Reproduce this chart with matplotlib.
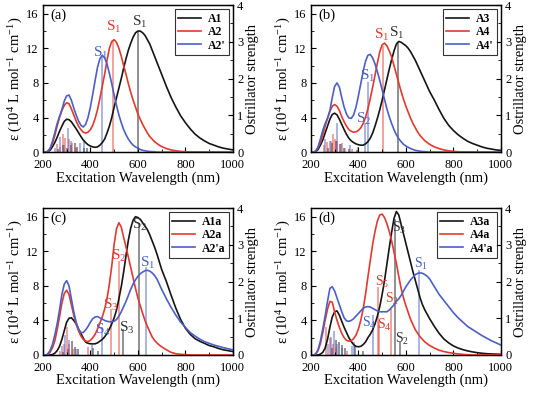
import numpy as np
import matplotlib.pyplot as plt
from matplotlib.ticker import MultipleLocator

plt.rcParams['font.family'] = ['Liberation Serif', 'DejaVu Serif']
plt.rcParams['mathtext.fontset'] = 'custom'
plt.rcParams['mathtext.rm'] = 'Liberation Serif'
plt.rcParams['mathtext.it'] = 'Liberation Serif:italic'
plt.rcParams['axes.linewidth'] = 0.9

BLACK = '#151515'
RED = '#e4392d'
BLUE = '#4a60c6'

# sampling wavelengths of the simulated spectra (nm): 10 nm up to 700, 20 nm beyond
wavelength = np.concatenate([np.arange(200, 701, 10), np.arange(720, 1001, 20)])

# (a) molar absorptivity, 10^4 L mol-1 cm-1
A1 = [0, 0, 0.05, 0.2, 0.6, 1.1, 1.7, 2.4, 3.0, 3.55,
      3.8, 3.75, 3.5, 3.1, 2.7, 2.25, 1.8, 1.4, 1.1, 0.85,
      0.7, 0.6, 0.55, 0.6, 0.8, 1.1, 1.5, 2.2, 3.0, 4.0,
      5.2, 6.3, 7.4, 8.5, 9.7, 10.8, 11.8, 12.6, 13.3, 13.8,
      14.0, 14.0, 13.8, 13.5, 13.0, 12.5, 11.8, 11.1, 10.4, 9.7,
      9.0, 7.6, 6.3, 5.2, 4.2, 3.4, 2.7, 2.1, 1.65, 1.3, 1.0, 0.8, 0.6, 0.45, 0.35, 0.25]
A2 = [0, 0, 0.1, 0.4, 1.0, 1.9, 3.0, 4.0, 4.8, 5.4,
      5.7, 5.6, 5.0, 4.3, 3.6, 3.0, 2.6, 2.3, 2.2, 2.3,
      2.6, 3.1, 3.9, 4.9, 6.2, 7.6, 9.0, 10.6, 12.0, 12.8,
      13.0, 12.7, 12.0, 11.1, 10.0, 9.0, 7.9, 6.9, 6.0, 5.2,
      4.4, 3.8, 3.2, 2.7, 2.2, 1.8, 1.5, 1.2, 1.0, 0.8,
      0.65, 0.4, 0.25, 0.15, 0.08, 0.04, 0, 0, 0, 0, 0, 0, 0, 0, 0, 0]
A2p = [0, 0, 0.05, 0.4, 1.2, 2.2, 3.3, 4.1, 4.9, 5.9,
       6.5, 6.6, 6.0, 5.1, 4.3, 3.6, 3.1, 2.9, 3.2, 4.0,
       5.2, 6.7, 8.3, 9.8, 10.8, 11.2, 10.9, 10.2, 9.1, 7.9,
       6.6, 5.4, 4.3, 3.4, 2.6, 2.0, 1.5, 1.1, 0.8, 0.6,
       0.45, 0.3, 0.2, 0.15, 0.1, 0.07, 0.05, 0.03, 0, 0,
       0, 0, 0, 0, 0, 0, 0, 0, 0, 0, 0, 0, 0, 0, 0, 0]

# (b)
A3 = [0, 0, 0.05, 0.3, 0.8, 1.4, 2.2, 3.0, 3.8, 4.35,
      4.5, 4.3, 3.8, 3.2, 2.6, 2.05, 1.6, 1.3, 1.1, 0.95,
      0.85, 0.8, 0.8, 0.95, 1.2, 1.6, 2.2, 3.0, 3.9, 4.9,
      6.0, 7.2, 8.4, 9.6, 10.7, 11.7, 12.5, 12.8, 12.7, 12.5,
      12.3, 12.0, 11.6, 11.1, 10.6, 10.0, 9.4, 8.8, 8.2, 7.6,
      7.0, 6.0, 4.9, 3.9, 3.1, 2.5, 2.0, 1.6, 1.25, 1.0, 0.8, 0.6, 0.45, 0.35, 0.25, 0.2]
A4 = [0, 0, 0.1, 0.5, 1.1, 2.0, 3.0, 3.9, 4.7, 5.3,
      5.5, 5.3, 4.8, 4.1, 3.5, 3.0, 2.6, 2.4, 2.3, 2.35,
      2.5, 2.8, 3.3, 4.0, 5.0, 6.2, 7.5, 8.9, 10.3, 11.6,
      12.4, 12.6, 12.3, 11.7, 11.0, 10.0, 9.0, 8.0, 7.0, 6.1,
      5.3, 4.6, 3.9, 3.3, 2.8, 2.3, 1.9, 1.6, 1.3, 1.1,
      0.9, 0.6, 0.4, 0.25, 0.15, 0.08, 0.04, 0, 0, 0, 0, 0, 0, 0, 0, 0]
A4p = [0, 0, 0.1, 0.6, 1.5, 2.5, 3.3, 3.9, 4.8, 6.3,
       7.6, 8.0, 7.5, 6.3, 5.2, 4.4, 3.95, 3.9, 4.3, 5.2,
       6.5, 7.9, 9.3, 10.5, 11.2, 11.3, 10.9, 10.2, 9.3, 8.3,
       7.2, 6.1, 5.0, 4.1, 3.3, 2.6, 2.0, 1.55, 1.2, 0.9,
       0.7, 0.55, 0.4, 0.3, 0.2, 0.15, 0.1, 0.07, 0.05, 0.03,
       0, 0, 0, 0, 0, 0, 0, 0, 0, 0, 0, 0, 0, 0, 0, 0]

# (c)
A1a = [0, 0, 0, 0, 0.05, 0.2, 0.5, 1.0, 1.8, 2.8,
       3.8, 4.25, 4.3, 4.0, 3.6, 3.0, 2.5, 1.95, 1.5, 1.35,
       1.3, 1.28, 1.3, 1.4, 1.6, 1.8, 2.1, 2.5, 3.0, 3.6,
       4.3, 5.2, 6.5, 7.9, 9.6, 11.5, 13.3, 14.7, 15.6, 16.0,
       15.9, 15.7, 15.3, 14.9, 14.5, 13.9, 13.2, 12.5, 11.7, 10.8,
       9.9, 8.5, 6.9, 5.4, 4.1, 3.1, 2.4, 1.9, 1.6, 1.35, 1.1, 0.95, 0.75, 0.6, 0.5, 0.4]
A2a = [0, 0, 0.05, 0.3, 0.8, 1.6, 2.9, 4.4, 6.0, 7.1,
       7.5, 7.0, 5.8, 4.6, 3.6, 2.8, 2.2, 1.8, 1.6, 1.55,
       1.7, 2.0, 2.4, 3.0, 3.7, 4.4, 5.3, 6.5, 8.2, 10.3,
       12.8, 14.6, 15.3, 14.8, 13.6, 12.5, 11.3, 10.1, 8.9, 7.7,
       6.6, 5.7, 4.8, 4.0, 3.3, 2.7, 2.1, 1.7, 1.4, 1.15,
       0.95, 0.6, 0.3, 0.15, 0.08, 0.04, 0, 0, 0, 0, 0, 0, 0, 0, 0, 0]
A2pa = [0, 0, 0.1, 0.5, 1.2, 2.3, 3.6, 5.2, 7.0, 8.2,
        8.6, 8.0, 6.5, 5.0, 3.8, 3.0, 2.6, 2.6, 2.9, 3.3,
        3.8, 4.2, 4.4, 4.45, 4.3, 4.15, 4.0, 3.9, 3.85, 3.85,
        3.9, 4.1, 4.5, 5.0, 5.6, 6.2, 6.9, 7.6, 8.2, 8.7,
        9.1, 9.4, 9.6, 9.75, 9.8, 9.7, 9.5, 9.2, 8.8, 8.2,
        7.6, 6.5, 5.5, 4.6, 3.8, 3.2, 2.6, 2.2, 1.85, 1.55, 1.35, 1.15, 1.0, 0.85, 0.72, 0.6]

# (d)
A3a = [0, 0, 0, 0, 0.1, 0.3, 0.8, 1.8, 3.2, 4.4,
       5.0, 5.1, 4.6, 3.9, 3.2, 2.6, 2.0, 1.55, 1.2, 1.0,
       0.95, 1.0, 1.2, 1.5, 2.0, 2.4, 2.9, 3.6, 4.5, 5.6,
       7.0, 8.6, 10.5, 12.4, 14.2, 15.8, 16.6, 16.2, 15.1, 14.0,
       12.9, 11.8, 10.7, 9.6, 8.6, 7.6, 6.6, 5.8, 5.2, 4.7,
       4.2, 3.3, 2.5, 1.85, 1.4, 1.05, 0.8, 0.62, 0.47, 0.36, 0.27, 0.2, 0.15, 0.12, 0.1, 0.08]
A4a = [0, 0, 0.1, 0.5, 1.3, 2.6, 4.0, 5.3, 6.2, 6.1,
       5.0, 4.0, 3.2, 2.5, 2.0, 1.7, 1.6, 1.65, 1.9, 2.3,
       3.0, 4.0, 5.3, 7.0, 9.0, 10.9, 12.8, 14.3, 15.5, 16.2,
       16.3, 15.9, 15.2, 14.3, 13.2, 11.9, 10.6, 9.1, 7.7, 6.6,
       5.7, 4.9, 4.1, 3.5, 2.9, 2.5, 2.1, 1.8, 1.5, 1.3,
       1.1, 0.8, 0.55, 0.4, 0.28, 0.2, 0.12, 0.07, 0.03, 0, 0, 0, 0, 0, 0, 0]
A4pa = [0, 0, 0.1, 0.6, 1.6, 3.0, 4.5, 6.2, 7.7, 7.9,
        7.4, 6.6, 5.8, 5.0, 4.3, 3.95, 3.9, 4.0, 4.2, 4.5,
        4.8, 5.1, 5.4, 5.55, 5.6, 5.55, 5.4, 5.25, 5.1, 5.0,
        5.0, 5.0, 5.0, 5.2, 5.5, 5.8, 6.2, 6.5, 6.9, 7.4,
        7.9, 8.3, 8.7, 9.0, 9.3, 9.45, 9.5, 9.45, 9.3, 9.1,
        8.8, 7.9, 7.0, 6.3, 5.6, 4.9, 4.3, 3.8, 3.3, 2.95, 2.6, 2.25, 1.95, 1.65, 1.4, 1.15]

# oscillator strengths (stick spectra): wavelengths (nm) and strengths
A1_wl = [262, 285, 300, 318, 336, 345, 372, 385, 600]
A1_f = [0.08, 0.18, 0.12, 0.2, 0.25, 0.15, 0.12, 0.1, 3.3]
A2_wl = [258, 272, 284, 294, 310, 322, 340, 495]
A2_f = [0.22, 0.15, 0.48, 0.38, 0.36, 0.25, 0.1, 3.05]
A2p_wl = [250, 274, 290, 306, 318, 356, 373, 450]
A2p_f = [0.1, 0.4, 0.2, 0.65, 0.3, 0.24, 0.34, 2.6]

A3_wl = [270, 290, 305, 322, 340, 360, 395, 568]
A3_f = [0.12, 0.25, 0.3, 0.22, 0.12, 0.08, 0.06, 2.98]
A4_wl = [255, 268, 280, 292, 300, 312, 325, 345, 375, 505]
A4_f = [0.2, 0.28, 0.3, 0.48, 0.35, 0.3, 0.22, 0.12, 0.08, 2.9]
A4p_wl = [258, 285, 308, 330, 365, 398, 428, 442]
A4p_f = [0.35, 0.3, 0.8, 0.25, 0.2, 0.15, 0.8, 1.9]

A1a_wl = [285, 305, 322, 335, 348, 412, 430, 538, 604]
A1a_f = [0.08, 0.15, 0.38, 0.22, 0.15, 0.18, 0.1, 0.7, 3.6]
A2a_wl = [272, 288, 300, 312, 328, 391, 488, 519]
A2a_f = [0.1, 0.3, 0.75, 0.3, 0.15, 0.22, 1.25, 2.55]
A2pa_wl = [280, 295, 310, 340, 405, 450, 634]
A2pa_f = [0.25, 0.55, 0.4, 0.15, 0.27, 0.77, 2.4]

A3a_wl = [290, 305, 318, 330, 345, 385, 420, 555, 576]
A3a_f = [0.2, 0.4, 0.35, 0.28, 0.2, 0.25, 0.1, 3.7, 0.35]
A4a_wl = [262, 280, 292, 305, 350, 481, 487, 537]
A4a_f = [0.75, 0.45, 0.3, 0.2, 0.1, 1.85, 0.9, 1.25]
A4pa_wl = [272, 285, 298, 312, 330, 375, 383, 460, 655]
A4pa_f = [0.3, 0.5, 0.65, 0.3, 0.2, 0.25, 0.35, 1.1, 2.3]


def draw_panel(rect, tag, names, curves, sticks, labels, label_size=11):
    ax = fig.add_axes(rect)
    ax2 = ax.twinx()
    colors = [BLACK, RED, BLUE]
    for (wl, f), c in zip(sticks, colors):
        ax2.vlines(wl, 0, f, color=c, lw=1.2, alpha=0.55)
    for y, name, c in zip(curves, names, colors):
        ax.plot(wavelength, y, color=c, lw=1.2, label=name)
    for text, x, y, c in labels:
        ax.text(x, y, text, color=c, fontsize=label_size, ha='center', va='center')

    ax.set_xlim(200, 1000)
    ax.set_ylim(0, 17)
    ax2.set_ylim(0, 4)
    ax.xaxis.set_major_locator(MultipleLocator(200))
    ax.xaxis.set_minor_locator(MultipleLocator(100))
    ax.yaxis.set_major_locator(MultipleLocator(4))
    ax.yaxis.set_minor_locator(MultipleLocator(2))
    ax2.yaxis.set_major_locator(MultipleLocator(1))
    ax2.yaxis.set_minor_locator(MultipleLocator(0.5))
    for a in (ax, ax2):
        a.tick_params(which='both', direction='in', labelsize=9, pad=3)
        a.tick_params(which='major', length=3.5)
        a.tick_params(which='minor', length=2)
    ax.tick_params(axis='x', which='both', pad=5)

    ax.set_xlabel('Excitation Wavelength (nm)', fontsize=10.5, labelpad=0)
    ax.set_ylabel('ε (10$^4$ L mol$^{-1}$ cm$^{-1}$)', fontsize=10.5, labelpad=1)
    ax2.set_ylabel('Ostrillator strength', fontsize=10.5, labelpad=2)
    ax.text(0.04, 0.93, tag, transform=ax.transAxes, fontsize=10.5,
            ha='left', va='center')
    leg = ax.legend(loc='upper right', fancybox=False, edgecolor='black',
                    prop={'weight': 'bold', 'size': 8.5}, handlelength=1.9,
                    labelspacing=0.12, borderaxespad=0.35, borderpad=0.3,
                    handletextpad=0.6)
    leg.get_frame().set_linewidth(0.8)
    leg.set_zorder(20)
    ax.set_zorder(ax2.get_zorder() + 1)
    ax.patch.set_visible(False)
    return ax


fig = plt.figure(figsize=(5.36, 3.94), dpi=100)

w, h = 0.3545, 0.373
draw_panel([0.080, 0.614, w, h], '(a)', ['A1', 'A2', "A2'"], [A1, A2, A2p],
           [(A1_wl, A1_f), (A2_wl, A2_f), (A2p_wl, A2p_f)],
           [('S$_1$', 608, 15.1, '#333333'), ('S$_1$', 500, 14.5, RED),
            ('S$_1$', 444, 11.5, BLUE)])
draw_panel([0.580, 0.614, w, h], '(b)', ['A3', 'A4', "A4'"], [A3, A4, A4p],
           [(A3_wl, A3_f), (A4_wl, A4_f), (A4p_wl, A4p_f)],
           [('S$_1$', 560, 13.8, '#333333'), ('S$_1$', 499, 13.6, RED),
            ('S$_1$', 440, 8.8, BLUE), ('S$_2$', 422, 3.8, BLUE)])
draw_panel([0.080, 0.099, w, h], '(c)', ['A1a', 'A2a', "A2'a"], [A1a, A2a, A2pa],
           [(A1a_wl, A1a_f), (A2a_wl, A2a_f), (A2pa_wl, A2pa_f)],
           [('S$_2$', 606, 15.0, '#333333'), ('S$_3$', 552, 3.1, '#333333'),
            ('S$_2$', 520, 11.4, RED), ('S$_3$', 486, 5.8, RED),
            ('S$_1$', 643, 10.6, BLUE), ('S$_4$', 451, 2.9, BLUE)])
draw_panel([0.580, 0.099, w, h], '(d)', ['A3a', 'A4a', "A4'a"], [A3a, A4a, A4pa],
           [(A3a_wl, A3a_f), (A4a_wl, A4a_f), (A4pa_wl, A4pa_f)],
           [('S$_3$', 570, 14.7, '#333333'), ('S$_2$', 585, 1.85, '#333333'),
            ('S$_1$', 662, 10.5, BLUE), ('S$_4$', 445, 3.7, BLUE),
            ('S$_5$', 500, 8.4, RED), ('S$_4$', 508, 3.5, RED),
            ('S$_2$', 542, 6.5, RED)], label_size=10)

fig.savefig('out.png', dpi=100)
